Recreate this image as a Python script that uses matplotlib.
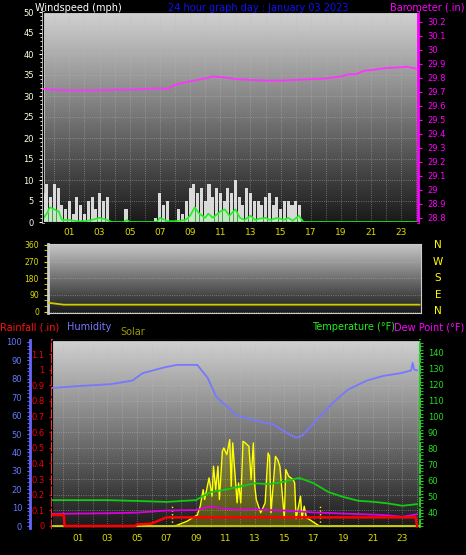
import matplotlib
matplotlib.use("Agg")
import matplotlib.pyplot as plt
import numpy as np

W, H = 466, 555

# ---------- data ----------
baro_h = [-0.7, 0, 1, 2, 3, 4, 5, 6, 7, 7.5, 8, 9, 10, 10.5, 11, 11.5, 12, 13, 14, 15, 16, 17, 18, 19, 19.5, 20, 20.5, 21, 22, 23, 23.3, 24]
baro_in = [29.72, 29.715, 29.71, 29.71, 29.71, 29.715, 29.715, 29.72, 29.725, 29.72, 29.75, 29.775, 29.795, 29.81, 29.805, 29.80, 29.79, 29.785, 29.78, 29.78, 29.785, 29.79, 29.795, 29.81, 29.825, 29.825, 29.85, 29.855, 29.87, 29.875, 29.88, 29.865]

gust_h = [-0.7, -0.5, -0.25, 0, 0.25, 0.5, 0.75, 1.0, 1.25, 1.5, 1.75, 2.0, 2.25, 2.5, 2.75, 3.0, 3.25, 3.5, 4.75, 6.7, 7.0, 7.25, 7.5, 8.25, 8.5, 8.75,
          9.0, 9.25, 9.5, 9.75, 10.0, 10.25, 10.5, 10.75, 11.0, 11.25, 11.5, 11.75, 12.0, 12.25, 12.5, 12.75, 13.0, 13.25, 13.5, 13.75,
          14.0, 14.25, 14.5, 14.75, 15.0, 15.25, 15.5, 15.75, 16.0, 16.25]
gust_mph = [7, 9, 6, 9, 8, 4, 3, 5, 2, 6, 4, 2, 5, 6, 3, 7, 5, 6, 3, 1, 7, 4, 5, 3, 2, 5,
            8, 9, 7, 8, 5, 9, 6, 8, 7, 5, 8, 7, 10, 6, 4, 8, 7, 5, 5, 4,
            6, 7, 4, 6, 3, 5, 5, 4, 5, 4]

avg_h = [-0.7, -0.5, -0.3, 0, 0.3, 0.5, 1, 1.5, 2, 2.5, 3, 3.5, 3.8, 4.6, 4.8, 5, 6.8, 7, 7.5, 8, 8.7, 9, 9.3, 9.6, 10, 10.2, 10.5, 11, 11.3, 11.6,
         12, 12.3, 12.6, 13, 13.3, 13.6, 14, 14.3, 14.8, 15.2, 15.5, 15.8, 16.2, 16.5, 24]
avg_mph = [1, 2, 3.5, 3, 2.5, 0.5, 0.5, 0.2, 0.2, 0.5, 1, 0.5, 0, 0, 0.5, 0, 0, 1, 0.2, 0.2, 0.5, 1.5, 3.5, 2, 1, 2, 1, 2.5, 3, 1.5,
           3, 1, 0.5, 1.5, 0.5, 0.8, 1, 0.5, 1, 0.5, 1, 0.3, 1.5, 0, 0]

dir_h = [-0.7, -0.4, 0, 0.3, 24]
dir_deg = [47, 44, 40, 37, 37]

hum_h = [-0.7, 1, 3.2, 4.7, 5.4, 6.8, 7.7, 9.1, 9.8, 10.4, 11.8, 12.9, 14.3, 15.4, 15.8, 16.2, 17.2, 18.3, 19.3, 20.6, 21.7, 22.9, 23.6, 23.7, 23.8, 24]
hum_pct = [75, 76, 77, 79, 83, 86, 87.5, 87.5, 80.5, 70, 60, 57.6, 55, 49.5, 48, 49, 57.6, 67, 74, 79, 81.5, 83, 84.5, 88.6, 85, 84.5]

temp_h = [-0.7, 1, 3, 5, 7, 9, 10, 11, 12, 13, 14, 15, 16, 17, 18, 19, 20, 21, 22, 23, 24]
temp_f = [48, 48, 48, 47.5, 46.9, 48, 53, 54.5, 56.5, 58.5, 58, 59.5, 62, 58.5, 53, 50, 47.6, 47, 46, 44.5, 45.5]
dew_f = [39.4, 39.6, 39.8, 40.2, 41.5, 41.8, 44, 42.5, 42, 42.3, 41.8, 41.5, 41, 40.3, 40, 39.6, 39.3, 39, 38.5, 37.6, 39.2]

rain_h = [-0.7, 0.05, 0.1, 4.9, 5.0, 6.0, 6.5, 7.0, 23.9, 24.0]
rain_in = [0.07, 0.07, 0.0, 0.0, 0.01, 0.015, 0.035, 0.055, 0.055, 0.0]

solar_h = [-0.7, 7.4, 7.7, 8.4, 9.1, 9.3, 9.5, 9.6, 9.9, 10.1, 10.2, 10.35, 10.5, 10.6, 10.8, 10.9, 11.1, 11.3, 11.4, 11.5, 11.8, 11.9, 12.05,
           12.2, 12.35, 12.6, 12.75, 12.9, 13.0, 13.1, 13.4, 13.7, 13.9, 14.0, 14.1, 14.4, 14.55, 14.7, 15.0, 15.1, 15.3, 15.6, 15.7, 15.8,
           16.1, 16.2, 16.35, 16.5, 16.7, 17.1, 17.4, 24]
solar_w = [0, 0, 4, 26, 60, 107, 196, 143, 259, 161, 322, 196, 322, 143, 402, 420, 384, 465, 214, 447, 125, 232, 125,
           456, 447, 429, 250, 447, 214, 143, 72, 125, 393, 375, 72, 375, 357, 322, 45, 304, 268, 250, 232, 40,
           161, 40, 107, 45, 36, 15, 0, 0]
sun_rise_set = [7.4, 17.4]

hour_ticks = [1, 3, 5, 7, 9, 11, 13, 15, 17, 19, 21, 23]

# ---------- helpers ----------
def box(l, r, t, b):
    return [l / W, (H - b) / H, (r - l) / W, (b - t) / H]

def gradient(ax, top=0.82, bottom=0.12):
    g = np.linspace(top, bottom, 256).reshape(-1, 1)
    ax.imshow(g, extent=(0, 1, 0, 1), transform=ax.transAxes, aspect="auto",
              cmap="gray", vmin=0, vmax=1, zorder=0)

def hours_axis(ax, xmin, xmax):
    ax.set_xlim(xmin, xmax)
    ax.set_xticks(hour_ticks)
    ax.set_xticklabels([f"{h:02d}" for h in hour_ticks], color="#dddd00", fontsize=6.5)
    ax.set_xticks(np.arange(0, 25, 1), minor=True)
    ax.grid(True, which="both", axis="x", color="#bbbbbb", ls=":", lw=0.6, alpha=0.6)
    ax.grid(True, axis="y", color="#bbbbbb", ls=":", lw=0.6, alpha=0.6)
    ax.tick_params(axis="x", which="both", colors="#dddd00", length=0, pad=4)

fig = plt.figure(figsize=(W / 100, H / 100), dpi=100, facecolor="black")
FS = 7

# ---------- top: wind + barometer ----------
ax = fig.add_axes(box(43, 418, 12, 222))
ax.set_facecolor("black")
gradient(ax, 0.82, 0.1)
hours_axis(ax, -0.75, 24.1)
ax.set_ylim(0, 50)
ax.set_yticks(np.arange(0, 51, 5))
ax.set_yticks(np.arange(0, 51, 1), minor=True)
ax.tick_params(axis="y", which="both", colors="#ffffdd", labelsize=6, length=3)
ax.tick_params(axis="y", which="minor", length=2)
ax.bar(gust_h, gust_mph, width=0.2, color="#eeeeee", alpha=0.9, zorder=3)
ax.fill_between(avg_h, avg_mph, color="#aaffaa", alpha=0.5, zorder=4)
ax.plot(avg_h, avg_mph, color="#22ee22", lw=1.2, zorder=5)
for s in ax.spines.values():
    s.set_color("#cccccc")
ax.spines["left"].set_linewidth(2)

axb = ax.twinx()
axb.set_ylim(28.8 - 0.03, 30.27)
bt = np.round(np.arange(28.8, 30.21, 0.1), 1)
axb.set_yticks(bt)
axb.set_yticklabels([f"{v:g}" for v in bt])
axb.tick_params(axis="y", colors="#ff00ff", labelsize=6, length=3)
axb.spines["right"].set_color("#ff00ff")
axb.spines["right"].set_linewidth(2)
axb.plot(baro_h, baro_in, color="#ff33ff", lw=1.3, zorder=5)

fig.text(35 / W, 1 - 8 / H, "Windspeed (mph)", color="white", fontsize=FS, va="center")
fig.text(258 / W, 1 - 8 / H, "24 hour graph day : January 03 2023", color="#1010ff", fontsize=FS, va="center", ha="center")
fig.text(464 / W, 1 - 8 / H, "Barometer (.in)", color="#ff00ff", fontsize=FS, va="center", ha="right")

# ---------- middle: wind direction ----------
axd = fig.add_axes(box(48, 421, 244, 313))
axd.set_facecolor("black")
gradient(axd, 0.78, 0.1)
axd.set_xlim(-0.75, 24.1)
axd.set_xticks([])
axd.set_ylim(-8, 365)
axd.set_yticks([0, 90, 180, 270, 360])
axd.set_yticks(np.arange(0, 361, 30), minor=True)
axd.tick_params(axis="y", which="both", colors="#dddd00", labelsize=5.5, length=3)
axd.grid(True, axis="y", color="#bbbbbb", ls=":", lw=0.6, alpha=0.6)
axd.plot(dir_h, dir_deg, color="#cccc00", lw=1.3, zorder=3)
for s in axd.spines.values():
    s.set_color("#cccccc")
axd.spines["left"].set_linewidth(2)
for i, c in enumerate("NWSEN"):
    fig.text(438 / W, 1 - (245 + i * 16.5) / H, c, color="#ffff00", fontsize=7.5, ha="center", va="center")

# ---------- bottom: rain / humidity / solar / temperature ----------
axr = fig.add_axes(box(52, 420, 340, 528))
axr.set_facecolor("black")
gradient(axr, 0.82, 0.1)
hours_axis(axr, -0.75, 24.2)
axr.set_ylim(-0.013, 1.19)
rt = np.round(np.arange(0, 1.11, 0.1), 1)
axr.set_yticks(rt)
axr.set_yticklabels([f"{v:g}" for v in rt])
axr.tick_params(axis="y", colors="#ee0000", labelsize=6, length=2)
axr.spines["left"].set_color("#ff3333")
axr.spines["left"].set_linestyle("--")
axr.spines["left"].set_linewidth(1.5)
for k in ("top", "bottom"):
    axr.spines[k].set_color("#cccccc")

axs = axr.twinx()
axs.set_ylim(-10, 1000)
axs.axis("off")
axs.fill_between(solar_h, solar_w, color="#cccc00", alpha=0.3, lw=0, zorder=2)
axs.plot(solar_h, solar_w, color="#ffff00", lw=1.0, zorder=3)
axs.vlines(sun_rise_set, 0, 120, colors="#ffff00", linestyles=":", lw=1)

axt = axr.twinx()
axt.set_ylim(30.6, 148)
axt.set_yticks(np.arange(40, 141, 10))
axt.set_yticks(np.arange(32, 148, 2), minor=True)
axt.tick_params(axis="y", which="both", colors="#22dd22", labelsize=6, length=2)
axt.spines["right"].set_color("#22cc22")
axt.spines["right"].set_linestyle("--")
axt.spines["right"].set_linewidth(1.5)
axt.plot(temp_h, temp_f, color="#11cc11", lw=1.3, zorder=4)
axt.plot(temp_h, dew_f, color="#dd00dd", lw=1.3, zorder=4)

axh = axr.twinx()
axh.yaxis.set_ticks_position("left")
axh.yaxis.set_label_position("left")
axh.spines["left"].set_position(("outward", 16))
axh.spines["left"].set_visible(True)
axh.spines["left"].set_color("#6666ff")
axh.spines["left"].set_linewidth(2)
axh.spines["right"].set_visible(False)
axh.set_ylim(-1, 101)
axh.set_yticks(np.arange(0, 101, 10))
axh.set_yticks(np.arange(0, 101, 2), minor=True)
axh.tick_params(axis="y", which="both", colors="#6677ff", labelsize=6, length=2)
axh.plot(hum_h, hum_pct, color="#7777ff", lw=1.3, zorder=5)

axr2 = axr.twinx()
axr2.set_ylim(axr.get_ylim())
axr2.axis("off")
axr2.plot([-0.75, 24.2], [0, 0], color="#cccc00", lw=1.3, zorder=5)
axr2.plot(rain_h, rain_in, color="#ff0000", lw=1.8, zorder=6)

fig.text(0, 1 - 327 / H, "Rainfall (.in)", color="#ff1111", fontsize=FS, va="center")
fig.text(67 / W, 1 - 327 / H, "Humidity", color="#7777ff", fontsize=FS, va="center")
fig.text(120 / W, 1 - 332 / H, "Solar", color="#999900", fontsize=FS, va="center")
fig.text(312 / W, 1 - 327 / H, "Temperature (°F)", color="#22ee22", fontsize=FS, va="center")
fig.text(464 / W, 1 - 327 / H, "Dew Point (°F)", color="#ff00ff", fontsize=FS, va="center", ha="right")

fig.savefig("out.png", dpi=100, facecolor="black")
